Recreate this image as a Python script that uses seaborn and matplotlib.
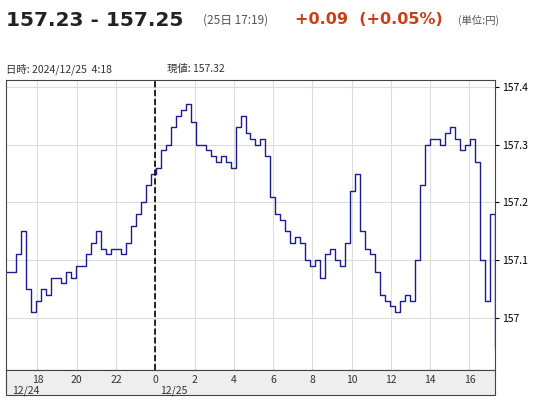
import numpy as np
import pandas as pd
import matplotlib.pyplot as plt
from matplotlib.patches import Rectangle
import seaborn as sns

# price readings, roughly every 15 min from 12/24 16:24 to 12/25 17:18
prices = [157.08, 157.08, 157.11, 157.15, 157.05, 157.01, 157.03, 157.05, 157.04, 157.07,
          157.07, 157.06, 157.08, 157.07, 157.09, 157.09, 157.11, 157.13, 157.15, 157.12,
          157.11, 157.12, 157.12, 157.11, 157.13, 157.16, 157.18, 157.20, 157.23, 157.25,
          157.26, 157.29, 157.30, 157.33, 157.35, 157.36, 157.37, 157.34, 157.30, 157.30,
          157.29, 157.28, 157.27, 157.28, 157.27, 157.26, 157.33, 157.35, 157.32, 157.31,
          157.30, 157.31, 157.28, 157.21, 157.18, 157.17, 157.15, 157.13, 157.14, 157.13,
          157.10, 157.09, 157.10, 157.07, 157.11, 157.12, 157.10, 157.09, 157.13, 157.22,
          157.25, 157.15, 157.12, 157.11, 157.08, 157.04, 157.03, 157.02, 157.01, 157.03,
          157.04, 157.03, 157.10, 157.23, 157.30, 157.31, 157.31, 157.30, 157.32, 157.33,
          157.31, 157.29, 157.30, 157.31, 157.27, 157.10, 157.03, 157.18, 156.95]
start_hour, end_hour = 16.4, 41.3   # hours since 12/24 00:00
tick_hours = [18, 20, 22, 24, 26, 28, 30, 32, 34, 36, 38, 40]
tick_labels = ['18', '20', '22', '0', '2', '4', '6', '8', '10', '12', '14', '16']
y_ticks = [157.0, 157.1, 157.2, 157.3, 157.4]
y_labels = ['157', '157.1', '157.2', '157.3', '157.4']

df = pd.DataFrame({'hour': np.linspace(start_hour, end_hour, len(prices)), 'price': prices})

plt.rcParams['font.family'] = ['Noto Sans CJK JP', 'DejaVu Sans']
fig = plt.figure(figsize=(5.4, 4), dpi=100)
ax = fig.add_axes([6 / 540, 30 / 400, 489 / 540, 290 / 400])
sns.lineplot(data=df, x='hour', y='price', ax=ax, color='#1c1c8f', linewidth=1.0,
             drawstyle='steps-post')
ax.axvline(24, color='black', linestyle='--', linewidth=1.2)
ax.set_xlim(start_hour, end_hour)
ax.set_ylim(156.91, 157.412)
ax.set_xticks(tick_hours)
ax.set_yticks(y_ticks)
ax.grid(True, color='#dddddd', linewidth=0.8)
ax.tick_params(axis='x', labelbottom=False, length=0)
ax.yaxis.tick_right()
ax.set_yticklabels(y_labels, fontsize=7.5)
ax.tick_params(axis='y', length=3, pad=2)
ax.set_xlabel('')
ax.set_ylabel('')
for s in ax.spines.values():
    s.set_color('#444444')

# grey time band under the plot
band = Rectangle((6 / 540, 5 / 400), 489 / 540, 25 / 400, transform=fig.transFigure,
                 facecolor='#eeeeee', edgecolor='#444444', linewidth=0.8)
fig.patches.append(band)
for h, lab in zip(tick_hours, tick_labels):
    xf = (6 + (h - start_hour) / (end_hour - start_hour) * 489) / 540
    fig.text(xf, 20 / 400, lab, ha='center', va='center', fontsize=7.5, color='#333333')
fig.text(12 / 540, 9 / 400, '12/24', ha='left', va='center', fontsize=7.5, color='#333333')
fig.text(160 / 540, 9 / 400, '12/25', ha='left', va='center', fontsize=7.5, color='#333333')

# header
fig.text(6 / 540, 1 - 20 / 400, '157.23 - 157.25', fontsize=14.5, fontweight='bold',
         color='#222222', va='center', family=['DejaVu Sans'])
fig.text(203 / 540, 1 - 20 / 400, '(25日 17:19)', fontsize=8.5, color='#555555', va='center')
fig.text(295 / 540, 1 - 20 / 400, '+0.09  (+0.05%)', fontsize=11.5, fontweight='bold',
         color='#c8401a', va='center', family=['DejaVu Sans'])
fig.text(458 / 540, 1 - 20 / 400, '(単位:円)', fontsize=7.5, color='#555555', va='center')
fig.text(6 / 540, 1 - 69 / 400, '日時: 2024/12/25  4:18', fontsize=7.5, color='#333333', va='center')
fig.text(167 / 540, 1 - 69 / 400, '現値: 157.32', fontsize=7.5, color='#333333', va='center')

fig.savefig('out.png', dpi=100)
